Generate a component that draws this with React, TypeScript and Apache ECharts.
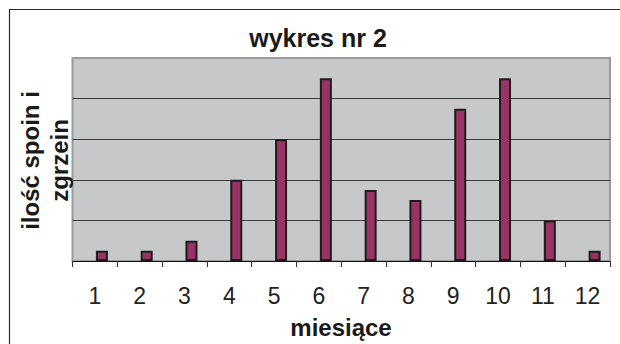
import React, { useEffect, useRef } from "react";
import * as echarts from "echarts";

const months = ["1", "2", "3", "4", "5", "6", "7", "8", "9", "10", "11", "12"];
const counts = [1, 1, 2, 8, 12, 18, 7, 6, 15, 18, 4, 1];
const emptySeries = months.map(() => null);
const titleText = "wykres nr 2";
const xTitle = "miesiące";
const yTitle = "ilość spoin i\nzgrzein";

const FONT = "'Liberation Sans', Arial, sans-serif";

export default function App() {
  const ref = useRef<HTMLDivElement>(null);
  useEffect(() => {
    if (!ref.current) return;
    const chart = echarts.init(ref.current, undefined, { renderer: "svg" });
    chart.setOption({
      animation: false,
      backgroundColor: "#ffffff",
      grid: {
        left: 72.5,
        right: 10,
        top: 58,
        bottom: 83,
        show: true,
        backgroundColor: "#c7c8ca",
        borderColor: "#9a9a9a",
        borderWidth: 2,
        containLabel: false,
      },
      xAxis: {
        type: "category",
        data: months,
        boundaryGap: true,
        axisLine: { show: true, lineStyle: { color: "#111", width: 1 } },
        axisTick: { show: true, length: 6, lineStyle: { color: "#333", width: 1 } },
        axisLabel: { fontSize: 23, color: "#222", margin: 23, fontFamily: FONT },
        splitLine: { show: false },
        z: 5,
      },
      yAxis: {
        type: "value",
        min: 0,
        max: 20,
        interval: 4,
        axisLabel: { show: false },
        axisLine: { show: false },
        axisTick: { show: false },
        splitLine: {
          show: true,
          showMinLine: false,
          showMaxLine: false,
          lineStyle: { color: "#3a3a3a", width: 1 },
        },
      },
      series: [
        {
          type: "bar",
          name: "empty",
          data: emptySeries,
          barWidth: 12,
          barGap: "16.7%",
          silent: true,
        },
        {
          type: "bar",
          name: "ilość",
          data: counts,
          barWidth: 12,
          barGap: "16.7%",
          itemStyle: { color: "#993366", borderColor: "#1c1c1c", borderWidth: 2 },
          z: 3,
        },
      ],
      graphic: [
        {
          type: "rect",
          shape: { x: 9.5, y: 9.5, width: 630, height: 350 },
          style: { fill: "none", stroke: "#2a2a2a", lineWidth: 1.2 },
          silent: true,
        },
        {
          type: "text",
          x: 318,
          y: 38,
          style: {
            text: titleText,
            fontSize: 25,
            fontWeight: "bold",
            fontFamily: FONT,
            fill: "#1a1a1a",
            align: "center",
            verticalAlign: "middle",
          },
        },
        {
          type: "text",
          x: 341,
          y: 327,
          style: {
            text: xTitle,
            fontSize: 24,
            fontWeight: "bold",
            fontFamily: FONT,
            fill: "#1a1a1a",
            align: "center",
            verticalAlign: "middle",
          },
        },
        {
          type: "text",
          x: 44.5,
          y: 160.5,
          rotation: Math.PI / 2,
          style: {
            text: yTitle,
            fontSize: 24,
            fontWeight: "bold",
            fontFamily: FONT,
            lineHeight: 29,
            fill: "#1a1a1a",
            align: "center",
            verticalAlign: "middle",
          },
        },
      ],
    });
    return () => chart.dispose();
  }, []);
  return <div ref={ref} style={{ width: 620, height: 344, position: "fixed", left: 0, top: 0 }} />;
}
